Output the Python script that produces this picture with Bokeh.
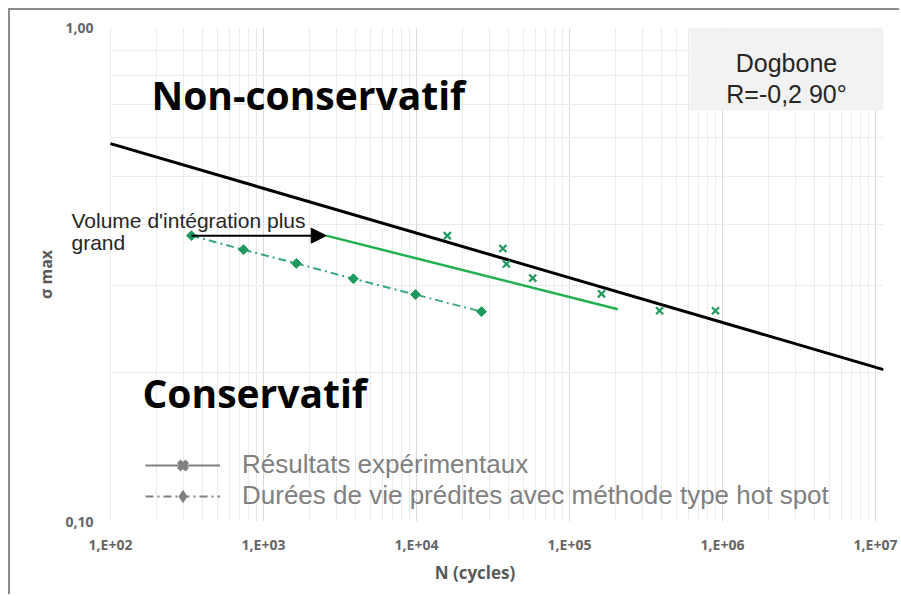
import numpy as np
from bokeh.plotting import figure
from bokeh.models import (Range1d, FixedTicker, CustomJSTickFormatter, Label, Legend,
                          LegendItem, Arrow, NormalHead, BoxAnnotation)
from bokeh.embed import file_html
from bokeh.resources import INLINE

# ---------------- data ----------------
exp_N = [15900, 36700, 38700, 57500, 162000, 388000, 900000]
exp_sigma = [0.379, 0.357, 0.332, 0.311, 0.289, 0.267, 0.267]

pred_N = [338, 740, 1640, 3870, 9840, 26600]
pred_sigma = [0.379, 0.355, 0.333, 0.310, 0.288, 0.266]

fit_exp_N = [100, 11300000]
fit_exp_sigma = [0.582, 0.203]

fit_large_N = [2570, 207000]
fit_large_sigma = [0.379, 0.269]

x_ticks = [1e2, 1e3, 1e4, 1e5, 1e6, 1e7]
x_tick_labels = ["1,E+02", "1,E+03", "1,E+04", "1,E+05", "1,E+06", "1,E+07"]
y_ticks = [0.1, 1.0]
y_tick_labels = ["0,10", "1,00"]

x_title = "N (cycles)"
y_title = "σ max"
legend_labels = ["Résultats expérimentaux",
                 "Durées de vie prédites avec méthode type hot spot"]

# ---------------- helpers: reference pixel -> data coordinates (annotations) -----
PX_LEFT, PX_PER_DEC_X, PX_TOP, PX_PER_DEC_Y = 110.0, 153.0, 27.0, 494.0
PX_FRAME_LEFT = 66.0      # frame extended left so the left text is not clipped
PX_RIGHT = 883.0


def nx(px):
    return 10 ** (2 + (px - PX_LEFT) / PX_PER_DEC_X)


def sy(py):
    return 10 ** (-(py - PX_TOP) / PX_PER_DEC_Y)


GREEN_MK = "#1f9a5e"
GREEN_LINE = "#22b04e"
GREEN_DASH = "#3aa77a"
GRAY_LEG = "#808080"

p = figure(width=891, height=586, x_axis_type="log", y_axis_type="log",
           x_range=Range1d(nx(PX_FRAME_LEFT), nx(PX_RIGHT)), y_range=Range1d(0.1, 1.0),
           output_backend="svg", toolbar_location=None,
           min_border_left=int(PX_FRAME_LEFT) - 10, min_border_right=18,
           min_border_top=17, min_border_bottom=75)
p.styles = {"border-left": "2px solid #8c8c8c", "border-top": "2px solid #8c8c8c",
            "margin-left": "8px", "margin-top": "8px"}
p.outline_line_color = None
p.background_fill_color = "white"
p.border_fill_color = "white"

minor_x = [m * 10 ** e for e in range(2, 7) for m in range(2, 10)]
minor_y = [m / 10 for m in range(2, 10)]
p.xaxis.ticker = FixedTicker(ticks=x_ticks, minor_ticks=minor_x)
p.yaxis.ticker = FixedTicker(ticks=y_ticks, minor_ticks=minor_y)
p.xaxis.formatter = CustomJSTickFormatter(args=dict(t=x_ticks, l=x_tick_labels), code="""
const i = t.findIndex(v => Math.abs(Math.log10(v) - Math.log10(tick)) < 1e-6);
return i >= 0 ? l[i] : '';""")
p.yaxis.formatter = CustomJSTickFormatter(args=dict(t=y_ticks, l=y_tick_labels), code="""
const i = t.findIndex(v => Math.abs(Math.log10(v) - Math.log10(tick)) < 1e-6);
return i >= 0 ? l[i] : '';""")

for ax in (p.xaxis[0], p.yaxis[0]):
    ax.major_tick_line_color = None
    ax.minor_tick_line_color = None
    ax.major_tick_out = 0
    ax.major_tick_in = 0
    ax.major_label_text_font = "Open Sans"
    ax.major_label_text_font_style = "bold"
    ax.major_label_text_font_size = "14px"
    ax.major_label_text_color = "#666666"
    ax.axis_label_text_font = "Open Sans"
    ax.axis_label_text_font_style = "bold"
    ax.axis_label_text_color = "#595959"
p.xaxis.axis_line_color = None
p.yaxis.axis_line_color = None
p.xaxis.major_label_standoff = 9
p.yaxis.major_label_standoff = -int(97 - PX_FRAME_LEFT)
p.xaxis.axis_label = x_title
p.yaxis.axis_label = y_title
p.xaxis.axis_label_text_font_size = "17px"
p.yaxis.axis_label_text_font_size = "16px"
p.xaxis.axis_label_standoff = 4
p.yaxis.axis_label_standoff = 5

for g in (p.xgrid[0], p.ygrid[0]):
    g.grid_line_color = "#d9d9d9"
    g.minor_grid_line_color = "#ebebeb"
    g.grid_line_width = 1

# white mask over the frame part left of N = 1e2 (hides grid lines there)
p.add_layout(BoxAnnotation(right=x_ticks[0], fill_color="white", fill_alpha=1,
                           line_color=None, level="underlay"))

# --- fitted line of experimental results (black) ---
p.line(fit_exp_N, fit_exp_sigma, line_color="black", line_width=3)
# --- line for larger integration volume (green solid) ---
p.line(fit_large_N, fit_large_sigma, line_color=GREEN_LINE, line_width=2.5)
# --- predicted lives (dash-dot with diamonds) ---
p.line(pred_N, pred_sigma, line_color=GREEN_DASH, line_width=2, line_dash="8 4 2 4")
p.scatter(pred_N, pred_sigma, marker="square", angle=np.pi / 4, size=7,
          fill_color=GREEN_MK, line_color=GREEN_MK)
# --- experimental results (x markers) ---
p.scatter(exp_N, exp_sigma, marker="x", size=10, line_color=GREEN_MK, line_width=2.2)

# --- arrow ---
p.add_layout(Arrow(end=NormalHead(size=15, fill_color="black", line_color="black"),
                   x_start=pred_N[0], y_start=pred_sigma[0],
                   x_end=fit_large_N[0], y_end=fit_large_sigma[0],
                   line_color="black", line_width=2))

# --- legend (gray, as in the reference); NaN points so nothing is drawn in the plot ---
nan = [float("nan")]
l1 = p.line(nan, nan, line_color=GRAY_LEG, line_width=2)
m1 = p.scatter(nan, nan, marker="x", size=16, line_color=GRAY_LEG, line_width=5)
l2 = p.line(nan, nan, line_color=GRAY_LEG, line_width=2, line_dash="8 4 2 4")
m2 = p.scatter(nan, nan, marker="diamond", size=16,
               fill_color=GRAY_LEG, line_color=GRAY_LEG)
legend = Legend(items=[LegendItem(label=legend_labels[0], renderers=[l1, m1]),
                       LegendItem(label=legend_labels[1], renderers=[l2, m2])],
                location=(int(145 - PX_FRAME_LEFT), 10), glyph_width=75, glyph_height=30,
                label_height=30, label_standoff=22, spacing=0, padding=0, margin=0,
                label_text_font="Liberation Sans", label_text_font_size="26px",
                label_text_color=GRAY_LEG, background_fill_alpha=0,
                border_line_color=None)
p.add_layout(legend)

# --- text annotations ---
p.add_layout(BoxAnnotation(left=nx(689), right=nx(883), top=sy(27), bottom=sy(110),
                           fill_color="#f2f2f2", fill_alpha=1, line_color=None))
for txt, py in (("Dogbone", 62), ("R=-0,2 90°", 93)):
    p.add_layout(Label(x=nx(786), y=sy(py), text=txt, text_align="center",
                       text_baseline="alphabetic", text_font="Liberation Sans",
                       text_font_size="25px", text_color="#262626"))

p.add_layout(Label(x=nx(151), y=sy(94), text="Non-conservatif", text_font="Open Sans",
                   text_font_style="bold", text_font_size="39px", text_color="black",
                   text_baseline="alphabetic"))
p.add_layout(Label(x=nx(142), y=sy(392), text="Conservatif", text_font="Open Sans",
                   text_font_style="bold", text_font_size="39px", text_color="black",
                   text_baseline="alphabetic"))
for txt, py in (("Volume d'intégration plus", 220), ("grand", 242)):
    p.add_layout(Label(x=nx(71), y=sy(py), text=txt, text_font="Liberation Sans",
                       text_font_size="21px", text_color="#262626",
                       text_baseline="alphabetic"))

open("out.html", "w").write(file_html(p, INLINE))
